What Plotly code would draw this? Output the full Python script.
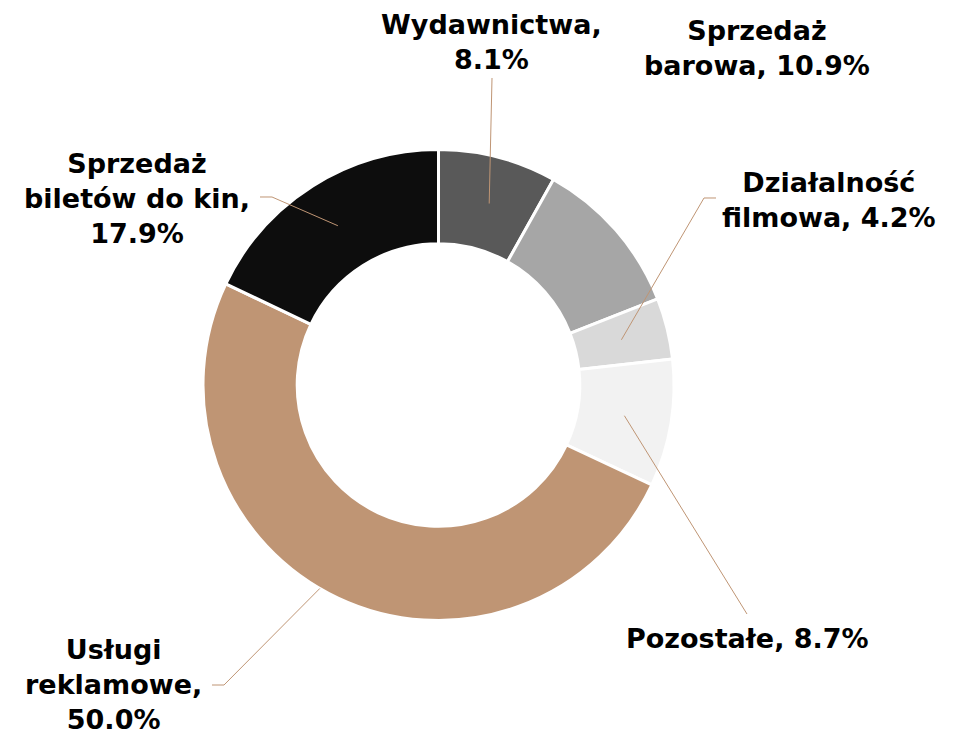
import math
import plotly.graph_objects as go

# ---- data ----
categories = ["Wydawnictwa", "Sprzedaż barowa", "Działalność filmowa",
              "Pozostałe", "Usługi reklamowe", "Sprzedaż biletów do kin"]
values = [8.1, 10.9, 4.2, 8.7, 50.0, 17.9]
colors = ["#595959", "#a6a6a6", "#d9d9d9", "#f2f2f2", "#bf9574", "#0d0d0d"]

# ---- label layout (styles / positions) ----
label_names = ["Wydawnictwa,<br>", "Sprzedaż<br>barowa, ", "Działalność<br>filmowa, ",
               "Pozostałe, ", "Usługi<br>reklamowe,<br>", "Sprzedaż<br>biletów do kin,<br>"]
# label centre in pixels (page coordinates)
label_pos = [(491, 42), (757, 48), (829, 200), (747, 638), (113, 684), (137, 199)]
# leader: (radius fraction of outer r for start, angle offset deg, extra points in px); None = no leader
leaders = [
    (0.80, 1.0, [(492, 78)]),
    None,
    (0.80, 0.0, [(704, 198), (716, 198)]),
    (0.80, 0.0, [(747, 614)]),
    (1.0, 5.0, [(224, 685), (212, 685)]),
    (0.80, 0.0, [(272, 197), (260, 197)]),
]

W, H = 966, 735
OFF = 8  # default page body margin
cx, cy, R = 438.5, 385.0, 235.5
HOLE = 0.6
LINE_COLOR = "#bf9574"
FONT = "DejaVu Sans"


def px(x):
    return (x - OFF) / W


def py(y):
    return 1 - (y - OFF) / H


fig = go.Figure(go.Pie(
    labels=categories, values=values, hole=HOLE, sort=False,
    direction="clockwise", rotation=0,
    marker=dict(colors=colors, line=dict(color="white", width=3)),
    textinfo="none", hoverinfo="label+percent", showlegend=False,
    domain=dict(x=[px(cx - R), px(cx + R)], y=[py(cy + R), py(cy - R)]),
))

total = sum(values)
cum = 0.0
annotations = []
shapes = []
for i, v in enumerate(values):
    mid = (cum + v / 2) / total * 360.0
    cum += v
    text = f"<b>{label_names[i]}{v:.1f}%</b>"
    lx, ly = label_pos[i]
    annotations.append(dict(
        x=px(lx), y=py(ly), xref="paper", yref="paper", text=text,
        showarrow=False, xanchor="center", yanchor="middle", align="center",
        font=dict(family=FONT, size=27, color="#000000"),
    ))
    ld = leaders[i]
    if ld is None:
        continue
    rf, off, pts = ld
    a = math.radians(mid + off)
    rr = R * rf
    sx = cx + rr * math.sin(a)
    sy = cy - rr * math.cos(a)
    allp = [(sx, sy)] + pts
    path = "M " + " L ".join(f"{px(x):.5f},{py(y):.5f}" for x, y in allp)
    shapes.append(dict(type="path", path=path, xref="paper", yref="paper",
                       line=dict(color=LINE_COLOR, width=1)))

fig.update_layout(
    width=W, height=H, margin=dict(l=0, r=0, t=0, b=0),
    paper_bgcolor="white", plot_bgcolor="white",
    annotations=annotations, shapes=shapes,
)

fig.write_html("out.html")
